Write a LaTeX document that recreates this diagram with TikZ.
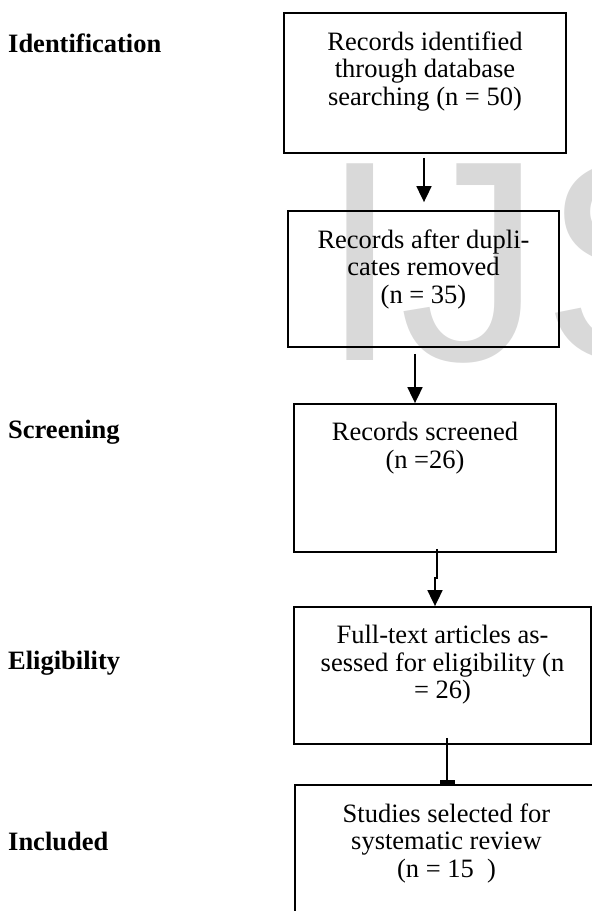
\documentclass[tikz,border=0pt]{standalone}
\usepackage{fontspec}
\setmainfont{Liberation Serif}
\newfontfamily\filigrane{Liberation Sans}
\usetikzlibrary{positioning,arrows.meta}
\newcommand{\boite}[5]{\node[cadre,minimum width=#3,minimum height=#4] (#1) at (#2) {};
	\node[texte,below=19.3pt of #1.north] (t#1) {#5}}
\newcommand{\phase}[3]{\node[etiq] (#1) at (#2) {#3}}

\begin{document}
\begin{tikzpicture}[x=1pt,y=-1pt,
	epais/.style={line width=1.8pt},
	cadre/.style={draw,epais,rectangle,inner sep=0pt},
	texte/.style={align=center,inner sep=0pt,font=\fontsize{26.5}{27.5}\selectfont},
	etiq/.style={anchor=base west,inner sep=0pt,font=\fontsize{26.5}{27.5}\selectfont\bfseries},
	filig/.style={anchor=base west,inner sep=0pt,text=black!15,font=\filigrane\fontsize{286}{290}\selectfont},
	lien/.style={epais,-{Triangle[length=16pt,width=15pt]}}]
%
	\useasboundingbox (0,0) rectangle (592,911);
	\clip (0,0) rectangle (592,911);
	\node[filig] (wm) at (320,360) {IJS};
%
	\phase{ident}{8,52}{Identification};
	\phase{screen}{8,438}{Screening};
	\phase{elig}{8,669}{Eligibility};
	\phase{incl}{8,850}{Included};
%
	\boite{b1}{425,83}{282pt}{140pt}{Records identified\\through database\\searching (n = 50)};
	\boite{b2}{423.5,279}{271pt}{136pt}{Records after dupli-\\cates removed\\(n = 35)};
	\boite{b3}{425,478}{262pt}{148pt}{Records screened\\(n =26)};
	\boite{b4}{442.5,675.5}{297pt}{137pt}{Full-text articles as-\\sessed for eligibility (n\\= 26)};
	\boite{b5}{446.5,855}{303pt}{140pt}{Studies selected for\\systematic review\\(n = 15\ \ )};
%
	\draw[lien,shorten <=4pt,shorten >=8pt] ([xshift=-1pt]b1.south) -- ([xshift=-1pt]b1.south |- b2.north);
	\draw[lien,shorten <=6pt] ([xshift=-8.5pt]b2.south) -- ([xshift=-8.5pt]b2.south |- b3.north);
	\draw[lien] ([xshift=12pt,yshift=4pt]b3.south) |- ++(-2,29) -- ([xshift=10pt]b3.south |- b4.north);
	\draw[epais,-{Rectangle[length=4pt,width=15pt]}] ([xshift=4.5pt,yshift=7pt]b4.south) -- ([xshift=4.5pt]b4.south |- b5.north);
%
\end{tikzpicture}
\end{document}
